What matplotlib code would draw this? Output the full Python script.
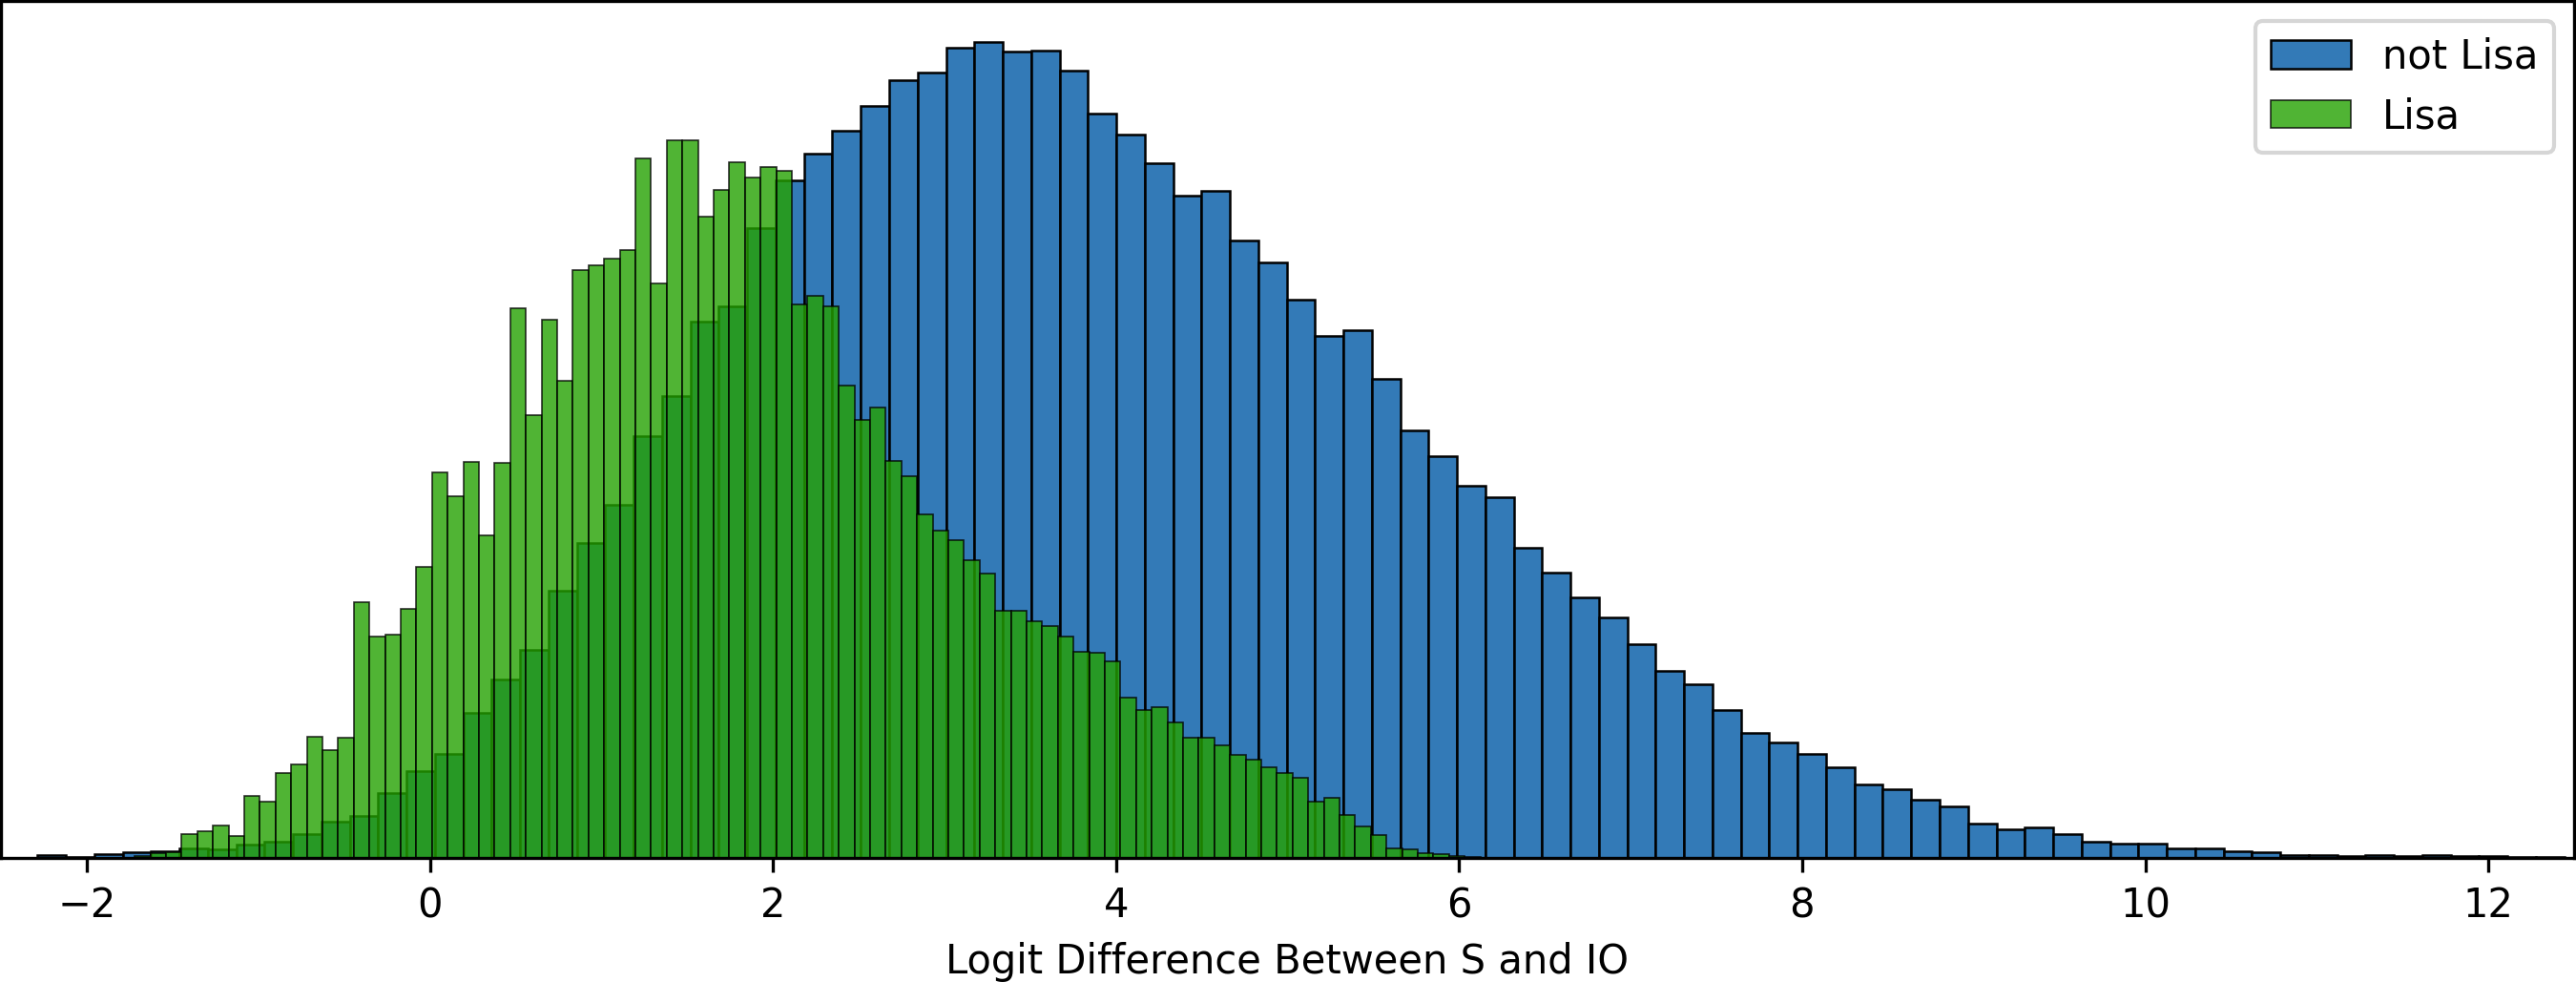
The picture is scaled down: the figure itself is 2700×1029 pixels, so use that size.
import matplotlib
matplotlib.use("Agg")
import matplotlib.pyplot as plt
import numpy as np

# blue histogram: "not Lisa"
blue_start = -2.287
blue_width = 0.1655
not_lisa = [2.7, 1.5, 4, 6.3, 7, 10, 9, 14, 17.5, 25,
            38, 44, 68, 91, 109, 152, 187, 218, 281, 331,
            371, 443, 485, 563, 579, 661, 711, 740, 764, 790,
            817, 825, 851, 857, 847, 848, 827, 782, 760, 729,
            695, 700, 648, 625, 586, 548, 554, 503, 449, 422,
            391, 379, 326, 300, 274, 253, 224, 196, 182, 155,
            131, 121, 109, 95, 77, 72, 61, 54, 36, 30,
            32, 25, 17, 15, 15, 10, 10, 7, 6, 3,
            3, 1.7, 3, 1.7, 3, 2, 2, 1, 1]

# green histogram: "Lisa"
green_start = -1.7197
green_width = 0.0912
lisa = [2.3, 5, 6, 25.5, 28, 34.5, 23, 65, 59, 89,
        98, 127, 113, 126, 269, 232, 234, 262, 306, 405,
        380, 416, 339, 415, 577, 465, 565, 501, 617, 622,
        629, 638, 735, 603, 754, 754, 673, 701, 731, 714,
        725, 721, 581, 590, 579, 496, 460, 473, 417, 401,
        361, 344, 334, 313, 299, 260, 260, 249, 243, 232,
        216, 215, 206, 168, 155, 158, 142, 126, 126, 118,
        108, 103, 95, 89, 84, 59, 63, 45, 33, 24,
        10, 9, 5, 4, 2, 1]

blue_edges = blue_start + blue_width * np.arange(len(not_lisa) + 1)
green_edges = green_start + green_width * np.arange(len(lisa) + 1)

fig = plt.figure(figsize=(9, 3.43), dpi=300)
ax = fig.add_axes([1 / 2700, 1 - 899 / 1029, 2697 / 2700, 898 / 1029])

ax.hist(blue_edges[:-1], bins=blue_edges, weights=not_lisa,
        color="#337ab7", edgecolor="black", linewidth=0.6, label="not Lisa")
ax.hist(green_edges[:-1], bins=green_edges, weights=lisa,
        color=(36 / 255, 161 / 255, 1 / 255), alpha=0.8,
        edgecolor="black", linewidth=0.4, label="Lisa")

ax.set_xlim(-2.5, 12.5)
ax.set_yticks([])
ax.set_xlabel("Logit Difference Between S and IO")
ax.legend(loc="upper right")

fig.savefig("out.png", dpi=300)
